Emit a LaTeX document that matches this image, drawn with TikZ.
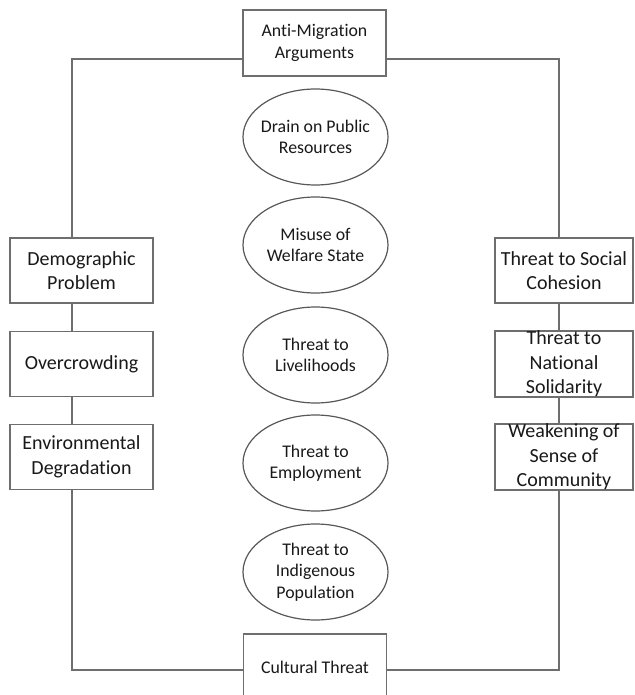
\documentclass[tikz,border=0pt]{standalone}
\usepackage{fontspec}
\setmainfont{Carlito}[Ligatures={NoCommon,NoContextual}]
\usetikzlibrary{shapes.geometric,backgrounds}

\definecolor{linegray}{RGB}{110,110,110}
\definecolor{textdark}{RGB}{25,25,25}

\tikzset{
  sidebox/.style={draw=linegray, fill=white, line width=1.3pt, inner sep=0pt,
    minimum width=143pt, minimum height=65pt, align=center, text=textdark,
    font=\fontsize{20}{24.5}\selectfont},
  midbox/.style={sidebox, minimum height=66pt, font=\fontsize{17.8}{21.5}\selectfont},
  oval/.style={ellipse, draw=linegray!80!black, fill=white, line width=1.2pt,
    inner xsep=-14pt, inner ysep=0pt,
    minimum width=145pt, minimum height=96pt, align=center, text=textdark,
    font=\fontsize{17.8}{21.5}\selectfont},
  frame/.style={draw=linegray, line width=1.3pt}
}

\begin{document}
\begin{tikzpicture}[x=1pt, y=-1pt]
\useasboundingbox (0,0) rectangle (634,695);

% centre column
\node[midbox] (anti) at (314.5,43) {Anti-Migration\\Arguments};
\node[oval] (drain) at (315.5,137) {Drain on Public\\Resources};
\node[oval] (welf) at (315.5,245) {Misuse of\\Welfare State};
\node[oval] (live) at (315.5,355) {Threat to\\Livelihoods};
\node[oval] (empl) at (315.5,463) {Threat to\\Employment};
\node[oval] (indi) at (315.5,572) {Threat to\\Indigenous\\Population};
\node[midbox] (cult) at (315,667) {Cultural Threat};

% left column
\node[sidebox] (demo) at (81.5,270.5) {Demographic\\Problem};
\node[sidebox] (over) at (81.5,364) {Overcrowding};
\node[sidebox] (env) at (81.5,457) {Environmental\\Degradation};

% right column
\node[sidebox, minimum width=138pt] (cohe) at (564,270.5) {Threat to Social\\Cohesion};
\node[sidebox, minimum width=138pt] (soli) at (564,364) {Threat to\\National\\Solidarity};
\node[sidebox, minimum width=138pt] (comm) at (564,457) {Weakening of\\Sense of\\Community};

% frame corners
\coordinate (tl) at (72,59);
\coordinate (tr) at (559,59);
\coordinate (bl) at (72,670);
\coordinate (br) at (559,670);

\begin{scope}[on background layer]
\draw[frame] (anti.west |- tl) -| (demo.north -| tl);
\draw[frame] (demo.south -| tl) -- (over.north -| tl);
\draw[frame] (over.south -| tl) -- (env.north -| tl);
\draw[frame] (env.south -| tl) |- (cult.west |- bl);
\draw[frame] (anti.east |- tr) -| (cohe.north -| tr);
\draw[frame] (cohe.south -| tr) -- (soli.north -| tr);
\draw[frame] (soli.south -| tr) -- (comm.north -| tr);
\draw[frame] (comm.south -| tr) |- (cult.east |- br);
\end{scope}
\end{tikzpicture}
\end{document}
